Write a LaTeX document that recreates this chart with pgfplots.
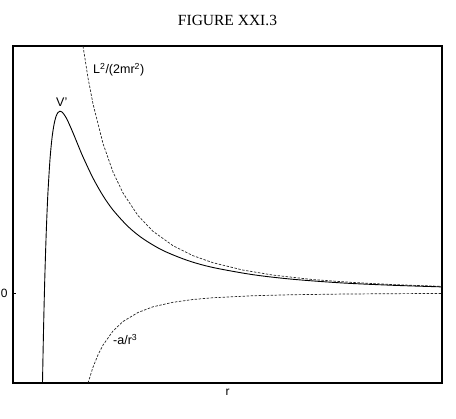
\documentclass[border=0pt]{standalone}
\usepackage{fontspec}
\setmainfont{Liberation Sans}
\newfontfamily\titlefont{Liberation Serif}
\usepackage{pgfplots}
\pgfplotsset{compat=1.18}
\begin{document}
\begin{tikzpicture}
\begin{axis}[
  at={(0pt,0pt)}, anchor=south west,
  scale only axis, width=429pt, height=337pt,
  xmin=0, xmax=429, ymin=-90, ymax=247,
  axis line style={line width=1.1pt},
  xtick=\empty,
  ytick={0},
  major tick length=3pt,
  tick style={black, line width=0.6pt},
  tick align=inside,
  /pgf/number format/assume math mode=true,
  yticklabel style={font=\fontsize{12}{14}\selectfont, xshift=-2pt},
  xlabel={r},
  xlabel style={at={(axis description cs:0.5,0)}, anchor=north, inner sep=0pt, yshift=-6pt, font=\fontsize{12}{14}\selectfont},
  title={\titlefont FIGURE XXI.3},
  title style={at={(axis description cs:0.5,1)}, anchor=base, inner sep=0pt, yshift=14.5pt, font=\fontsize{15.5}{18}\selectfont},
  clip=true,
]
% L^2/(2 m r^2)
\addplot[black!85, line width=0.7pt, dash pattern=on 2.5pt off 1.5pt] coordinates {
(70,246.9) (75,215.1) (80,189.1) (90,149.4) (100,121.0) (110,100.0) (125,77.4)
(140,61.7) (160,47.3) (180,37.3) (200,30.25) (230,22.9) (260,17.9) (300,13.4)
(340,10.5) (380,8.4) (429,6.6)
};
% -a/r^3
\addplot[black!85, line width=0.7pt, dash pattern=on 2.5pt off 1.5pt] coordinates {
(75,-90.1) (80,-74.2) (85,-61.9) (90,-52.1) (100,-38.0) (110,-28.5) (125,-19.5)
(140,-13.8) (160,-9.3) (180,-6.5) (200,-4.75) (240,-2.75) (280,-1.73)
(330,-1.06) (380,-0.69) (429,-0.48)
};
% V'
\addplot[black, line width=0.9pt, smooth] coordinates {
(29.5,-89.8) (30,-63.0) (30.5,-38.6) (31,-16.4) (31.5,3.6) (32,21.9) (33,53.7)
(34,79.9) (35,101.5) (37,133.7) (39,154.9) (41,168.4) (43,176.5) (45,180.5)
(47,181.8) (49,181.0) (52,177.2) (55,171.6) (60,160.2) (65,148.0) (70,136.1)
(80,114.9) (90,97.3) (100,83.0) (115,66.5) (130,54.3) (150,42.5) (175,32.4)
(200,25.5) (240,18.3) (280,13.7) (330,10.0) (380,7.7) (429,6.1)
};
\node[anchor=base west, inner sep=0pt, font=\fontsize{12.5}{14}\selectfont] at (axis cs:80,219) {L\textsuperscript{2}/(2mr\textsuperscript{2})};
\node[anchor=base west, inner sep=0pt, font=\fontsize{12.5}{14}\selectfont] at (axis cs:43,186) {V'};
\node[anchor=base west, inner sep=0pt, font=\fontsize{12.5}{14}\selectfont] at (axis cs:100,-52) {-a/r\textsuperscript{3}};
\end{axis}
\pgfresetboundingbox
\path (-13pt,-36pt) rectangle (443pt,383pt);
\end{tikzpicture}
\end{document}
